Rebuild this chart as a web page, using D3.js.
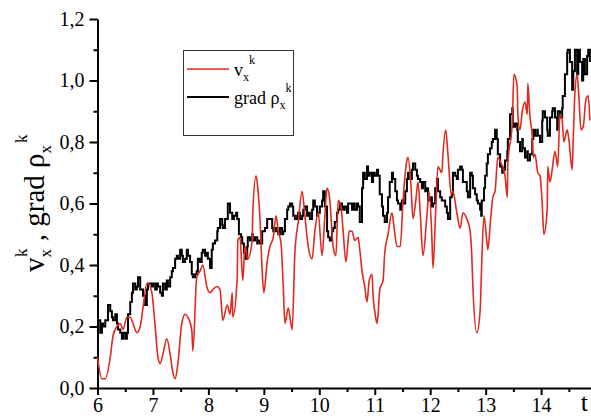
<!DOCTYPE html>
<html>
<head>
<meta charset="utf-8">
<script src="https://cdn.jsdelivr.net/npm/d3@7"></script>
<style>
    body { margin: 0; background: #fff; }
    svg { display: block; }
</style>
</head>
<body>
<svg id="chart" width="591" height="416"></svg>
<script>

// v_x^k (red)
var velT = [6.00, 6.08, 6.14, 6.23, 6.28, 6.35, 6.41, 6.46, 6.53, 6.59, 6.64, 6.71, 6.77, 6.82, 6.89, 6.91, 6.98,
    7.04, 7.09, 7.13, 7.18, 7.25, 7.31, 7.36, 7.40, 7.45, 7.52, 7.58, 7.63, 7.70, 7.72, 7.79, 7.85, 7.90, 7.97,
    8.03, 8.08, 8.16, 8.21, 8.26, 8.34, 8.39, 8.43, 8.44, 8.52, 8.53, 8.57, 8.62, 8.66, 8.71, 8.79, 8.80, 8.86, 8.89, 8.93, 8.97,
    9.00, 9.06, 9.11, 9.17, 9.22, 9.26, 9.31, 9.35, 9.38, 9.44, 9.51, 9.56, 9.62, 9.69, 9.74, 9.80, 9.87, 9.92, 9.98,
    10.05, 10.10, 10.14, 10.19, 10.25, 10.30, 10.34, 10.39, 10.43, 10.48, 10.54, 10.59, 10.64, 10.70, 10.73, 10.77, 10.82, 10.86, 10.90, 10.95, 10.97,
    11.00, 11.04, 11.06, 11.09, 11.15, 11.18, 11.24, 11.31, 11.35, 11.40, 11.46, 11.51, 11.58, 11.60, 11.65, 11.69, 11.74, 11.78, 11.82, 11.87, 11.94, 11.98,
    12.03, 12.05, 12.10, 12.14, 12.21, 12.23, 12.28, 12.32, 12.38, 12.41, 12.48, 12.54, 12.59, 12.66, 12.72, 12.75, 12.77, 12.84, 12.90, 12.93, 12.97,
    13.02, 13.04, 13.09, 13.13, 13.17, 13.22, 13.28, 13.31, 13.35, 13.39, 13.40, 13.48, 13.51, 13.57, 13.58, 13.62, 13.66, 13.71, 13.75, 13.76, 13.80, 13.84, 13.86, 13.89, 13.94, 13.98,
    14.02, 14.05, 14.11, 14.12, 14.16, 14.20, 14.25, 14.30, 14.34, 14.38, 14.41, 14.47, 14.50, 14.56, 14.58, 14.61, 14.65, 14.68, 14.72, 14.76, 14.81, 14.85, 14.88];
var velV = [0.10, 0.03, 0.03, 0.10, 0.17, 0.20, 0.21, 0.19, 0.23, 0.23, 0.21, 0.18, 0.20, 0.26, 0.34, 0.34, 0.31,
    0.20, 0.10, 0.08, 0.11, 0.16, 0.11, 0.05, 0.03, 0.08, 0.21, 0.24, 0.23, 0.19, 0.12, 0.36, 0.38, 0.40, 0.33,
    0.31, 0.32, 0.33, 0.32, 0.22, 0.27, 0.24, 0.31, 0.23, 0.36, 0.48, 0.49, 0.35, 0.46, 0.42, 0.48, 0.57, 0.69, 0.65, 0.55, 0.38,
    0.31, 0.41, 0.46, 0.49, 0.56, 0.51, 0.47, 0.33, 0.21, 0.26, 0.19, 0.44, 0.54, 0.64, 0.56, 0.46, 0.42, 0.51, 0.57,
    0.43, 0.56, 0.65, 0.61, 0.46, 0.43, 0.61, 0.59, 0.51, 0.41, 0.51, 0.51, 0.48, 0.49, 0.45, 0.38, 0.33, 0.28, 0.35, 0.37, 0.30,
    0.25, 0.21, 0.24, 0.32, 0.35, 0.44, 0.50, 0.57, 0.52, 0.46, 0.46, 0.61, 0.74, 0.75, 0.67, 0.55, 0.61, 0.67, 0.57, 0.43, 0.56, 0.64,
    0.49, 0.39, 0.58, 0.72, 0.70, 0.76, 0.84, 0.76, 0.63, 0.64, 0.57, 0.52, 0.57, 0.55, 0.51, 0.43, 0.33, 0.18, 0.25, 0.41, 0.56,
    0.48, 0.45, 0.55, 0.62, 0.64, 0.75, 0.73, 0.72, 0.69, 0.62, 0.73, 0.86, 1.02, 0.98, 0.89, 0.84, 0.90, 0.93, 0.89, 0.99, 0.88, 0.82, 0.75, 0.76, 0.70, 0.69,
    0.60, 0.50, 0.58, 0.72, 0.67, 0.71, 0.77, 0.72, 0.89, 0.87, 0.80, 0.84, 0.81, 0.71, 0.81, 0.96, 1.02, 0.95, 0.84, 0.85, 0.94, 0.95, 0.87];

// grad rho_x^k (black)
var gradT = [6.00, 6.01, 6.05, 6.08, 6.10, 6.14, 6.19, 6.23, 6.26, 6.28, 6.32, 6.35, 6.37, 6.41, 6.44, 6.46, 6.50, 6.53, 6.55, 6.59,
    6.62, 6.64, 6.68, 6.71, 6.73, 6.77, 6.80, 6.82, 6.86, 6.89, 6.91, 6.98, 7.00, 7.04, 7.07, 7.09, 7.13, 7.16, 7.18, 7.22,
    7.25, 7.27, 7.31, 7.34, 7.36, 7.40, 7.43, 7.45, 7.49, 7.52, 7.54, 7.58, 7.61, 7.63, 7.67, 7.70, 7.72, 7.76, 7.79, 7.81,
    7.85, 7.88, 7.90, 7.94, 7.97, 7.99, 8.03, 8.06, 8.08, 8.12, 8.16, 8.17, 8.21, 8.25, 8.26, 8.30, 8.35, 8.39, 8.43, 8.46,
    8.50, 8.52, 8.55, 8.59, 8.61, 8.64, 8.66, 8.70, 8.71, 8.75, 8.79, 8.80, 8.84, 8.88, 8.89, 8.93, 8.97, 8.98, 9.02, 9.06,
    9.07, 9.11, 9.15, 9.17, 9.20, 9.24, 9.26, 9.29, 9.33, 9.35, 9.38, 9.42, 9.44, 9.47, 9.51, 9.53, 9.56, 9.60, 9.62, 9.65,
    9.69, 9.71, 9.74, 9.78, 9.80, 9.83, 9.87, 9.89, 9.92, 9.96, 9.98, 10.01, 10.05, 10.07, 10.10, 10.14, 10.16, 10.19, 10.23, 10.25,
    10.28, 10.32, 10.34, 10.37, 10.41, 10.43, 10.46, 10.50, 10.52, 10.59, 10.61, 10.64, 10.68, 10.70, 10.73, 10.77, 10.79, 10.82, 10.86, 10.88,
    10.91, 10.95, 10.97, 11.00, 11.04, 11.06, 11.09, 11.13, 11.15, 11.18, 11.22, 11.24, 11.27, 11.31, 11.33, 11.37, 11.40, 11.42, 11.46, 11.49,
    11.51, 11.55, 11.58, 11.60, 11.64, 11.67, 11.69, 11.73, 11.76, 11.78, 11.82, 11.85, 11.87, 11.91, 11.94, 11.96, 12.00, 12.03, 12.05, 12.09,
    12.12, 12.14, 12.18, 12.21, 12.23, 12.27, 12.30, 12.32, 12.36, 12.39, 12.41, 12.45, 12.48, 12.50, 12.54, 12.57, 12.59, 12.63, 12.66, 12.68,
    12.72, 12.75, 12.77, 12.81, 12.84, 12.86, 12.90, 12.92, 12.93, 12.97, 12.99, 13.02, 13.04, 13.08, 13.11, 13.13, 13.17, 13.20, 13.22, 13.26,
    13.30, 13.31, 13.35, 13.39, 13.40, 13.44, 13.48, 13.49, 13.53, 13.57, 13.58, 13.62, 13.66, 13.67, 13.71, 13.75, 13.76, 13.80, 13.84, 13.86,
    13.89, 13.93, 13.94, 13.98, 14.02, 14.03, 14.07, 14.11, 14.12, 14.16, 14.20, 14.21, 14.25, 14.29, 14.30, 14.34, 14.38, 14.39, 14.43, 14.47,
    14.48, 14.52, 14.56, 14.58, 14.61, 14.65, 14.67, 14.70, 14.74, 14.76, 14.79, 14.83, 14.85, 14.88];
var gradV = [0.19, 0.22, 0.18, 0.21, 0.20, 0.22, 0.27, 0.25, 0.23, 0.22, 0.24, 0.21, 0.19, 0.18, 0.16, 0.18, 0.16, 0.18, 0.24, 0.28,
    0.31, 0.34, 0.32, 0.33, 0.36, 0.32, 0.32, 0.30, 0.27, 0.32, 0.34, 0.33, 0.34, 0.32, 0.34, 0.33, 0.31, 0.30, 0.34, 0.32,
    0.35, 0.33, 0.36, 0.38, 0.39, 0.42, 0.43, 0.42, 0.45, 0.43, 0.41, 0.42, 0.45, 0.43, 0.41, 0.37, 0.36, 0.37, 0.38, 0.42,
    0.41, 0.44, 0.45, 0.43, 0.44, 0.42, 0.39, 0.45, 0.47, 0.48, 0.51, 0.52, 0.55, 0.53, 0.52, 0.55, 0.60, 0.57, 0.55, 0.56,
    0.57, 0.55, 0.50, 0.49, 0.47, 0.44, 0.42, 0.46, 0.49, 0.48, 0.50, 0.48, 0.49, 0.47, 0.48, 0.47, 0.51, 0.51, 0.52, 0.55,
    0.55, 0.55, 0.52, 0.51, 0.52, 0.51, 0.50, 0.52, 0.50, 0.51, 0.55, 0.58, 0.59, 0.60, 0.59, 0.56, 0.55, 0.56, 0.57, 0.55,
    0.56, 0.58, 0.59, 0.56, 0.57, 0.55, 0.58, 0.61, 0.59, 0.56, 0.57, 0.59, 0.61, 0.64, 0.59, 0.51, 0.49, 0.48, 0.51, 0.52,
    0.54, 0.57, 0.58, 0.60, 0.59, 0.58, 0.59, 0.57, 0.60, 0.58, 0.60, 0.58, 0.60, 0.59, 0.54, 0.65, 0.70, 0.68, 0.72, 0.69,
    0.70, 0.67, 0.70, 0.69, 0.71, 0.69, 0.63, 0.59, 0.56, 0.54, 0.57, 0.62, 0.67, 0.70, 0.68, 0.64, 0.61, 0.60, 0.58, 0.61,
    0.60, 0.64, 0.68, 0.70, 0.68, 0.71, 0.73, 0.71, 0.69, 0.68, 0.67, 0.65, 0.67, 0.64, 0.65, 0.61, 0.62, 0.59, 0.60, 0.65,
    0.68, 0.64, 0.62, 0.61, 0.61, 0.59, 0.57, 0.55, 0.62, 0.63, 0.70, 0.69, 0.68, 0.71, 0.72, 0.71, 0.67, 0.67, 0.64, 0.62,
    0.70, 0.69, 0.65, 0.63, 0.61, 0.60, 0.58, 0.56, 0.61, 0.65, 0.69, 0.73, 0.76, 0.78, 0.80, 0.81, 0.84, 0.81, 0.76, 0.72,
    0.70, 0.71, 0.74, 0.77, 0.81, 0.89, 0.91, 0.85, 0.86, 0.84, 0.80, 0.77, 0.81, 0.78, 0.75, 0.77, 0.74, 0.76, 0.81, 0.84,
    0.82, 0.84, 0.82, 0.80, 0.87, 0.90, 0.88, 0.84, 0.82, 0.88, 0.90, 0.91, 0.88, 0.84, 0.90, 0.88, 0.91, 0.95, 1.02, 1.09,
    1.10, 1.06, 0.97, 1.03, 1.10, 1.02, 1.10, 1.06, 1.00, 1.07, 1.02, 1.08, 1.10, 1.06];

var xMajor = [6, 7, 8, 9, 10, 11, 12, 13, 14];
var yMajor = [0, 0.2, 0.4, 0.6, 0.8, 1.0, 1.2];

var FONT = "Liberation Serif";

init();

function init() {

    var svg = d3.select("#chart").attr("font-family", FONT),
        left = 97.5, right = 591, top = 19, bottom = 388;

    var x = d3.scaleLinear().domain([6, 14.9]).range([left, right]),
        y = d3.scaleLinear().domain([0, 1.2]).range([bottom, top]);

    var fmt = function (d) { return d3.format(".1f")(d).replace(".", ","); };

    // minor ticks
    svg.append("g")
        .attr("transform", "translate(0," + bottom + ")")
        .call(d3.axisBottom(x).tickValues(d3.range(6.5, 14.9, 1)).tickSize(4).tickSizeOuter(0).tickFormat(""))
        .call(function (g) { g.select(".domain").remove(); })
        .selectAll("line").attr("stroke-width", 2);

    svg.append("g")
        .attr("transform", "translate(" + left + ",0)")
        .call(d3.axisLeft(y).tickValues(d3.range(0.1, 1.2, 0.2)).tickSize(4).tickSizeOuter(0).tickFormat(""))
        .call(function (g) { g.select(".domain").remove(); })
        .selectAll("line").attr("stroke-width", 2);

    // major ticks + labels
    var gx = svg.append("g")
        .attr("transform", "translate(0," + bottom + ")")
        .call(d3.axisBottom(x).tickValues(xMajor).tickSize(7).tickSizeOuter(0).tickPadding(3));
    gx.select(".domain").attr("stroke-width", 2);
    gx.selectAll("line").attr("stroke-width", 2);
    gx.selectAll("text").attr("font-family", FONT).attr("font-size", 20);

    var gy = svg.append("g")
        .attr("transform", "translate(" + left + ",0)")
        .call(d3.axisLeft(y).tickValues(yMajor).tickSize(8).tickSizeOuter(0).tickPadding(5).tickFormat(fmt));
    gy.select(".domain").attr("stroke-width", 2);
    gy.selectAll("line").attr("stroke-width", 2);
    gy.selectAll("text").attr("font-family", FONT).attr("font-size", 20);

    // series
    var gradLine = d3.line()
        .curve(d3.curveStepAfter)
        .x(function (d) { return x(d[0]); })
        .y(function (d) { return y(d[1]); });

    var velLine = d3.line()
        .curve(d3.curveMonotoneX)
        .x(function (d) { return x(d[0]); })
        .y(function (d) { return y(d[1]); });

    var gradData = gradT.map(function (t, i) { return [t, gradV[i]]; }),
        velData = velT.map(function (t, i) { return [t, velV[i]]; });

    svg.append("path")
        .datum(gradData)
        .attr("fill", "none")
        .attr("stroke", "#000")
        .attr("stroke-width", 2)
        .attr("d", gradLine);

    svg.append("path")
        .datum(velData)
        .attr("fill", "none")
        .attr("stroke", "#e0291f")
        .attr("stroke-width", 1.6)
        .attr("stroke-linejoin", "round")
        .attr("d", velLine);

    // axis titles
    svg.append("text")
        .attr("x", 588)
        .attr("y", 411)
        .attr("text-anchor", "end")
        .attr("font-family", FONT)
        .attr("font-size", 26)
        .text("t");

    var yt = svg.append("text")
        .attr("transform", "translate(44,272) rotate(-90)")
        .attr("font-family", FONT)
        .attr("font-size", 29);
    yt.append("tspan").text("v");
    yt.append("tspan").attr("dy", 7).attr("font-size", 17).text("x");
    yt.append("tspan").attr("dx", -8).attr("dy", -24).attr("font-size", 17).text("k");
    yt.append("tspan").attr("dy", 17).text(" , grad \u03c1");
    yt.append("tspan").attr("dy", 7).attr("font-size", 17).text("x");
    yt.append("tspan").attr("dx", 2).attr("dy", -24).attr("font-size", 17).text("k");

    // legend
    var lg = svg.append("g");
    lg.append("rect")
        .attr("x", 183.5).attr("y", 50.5)
        .attr("width", 110).attr("height", 85)
        .attr("fill", "#fff")
        .attr("stroke", "#333")
        .attr("stroke-width", 1);

    lg.append("line").attr("x1", 187).attr("x2", 229).attr("y1", 69).attr("y2", 69)
        .attr("stroke", "#e0291f").attr("stroke-width", 1.6);
    lg.append("line").attr("x1", 187).attr("x2", 229).attr("y1", 97).attr("y2", 97)
        .attr("stroke", "#000").attr("stroke-width", 2);

    var t1 = lg.append("text").attr("x", 234).attr("y", 76).attr("font-family", FONT).attr("font-size", 18);
    t1.append("tspan").text("v");
    t1.append("tspan").attr("dy", 5).attr("font-size", 12).text("x");
    t1.append("tspan").attr("dy", -17).attr("font-size", 12).text("k");

    var t2 = lg.append("text").attr("x", 234).attr("y", 104).attr("font-family", FONT).attr("font-size", 18);
    t2.append("tspan").text("grad \u03c1");
    t2.append("tspan").attr("dy", 5).attr("font-size", 12).text("x");
    t2.append("tspan").attr("dy", -17).attr("font-size", 12).text("k");
}
</script>
</body>
</html>
